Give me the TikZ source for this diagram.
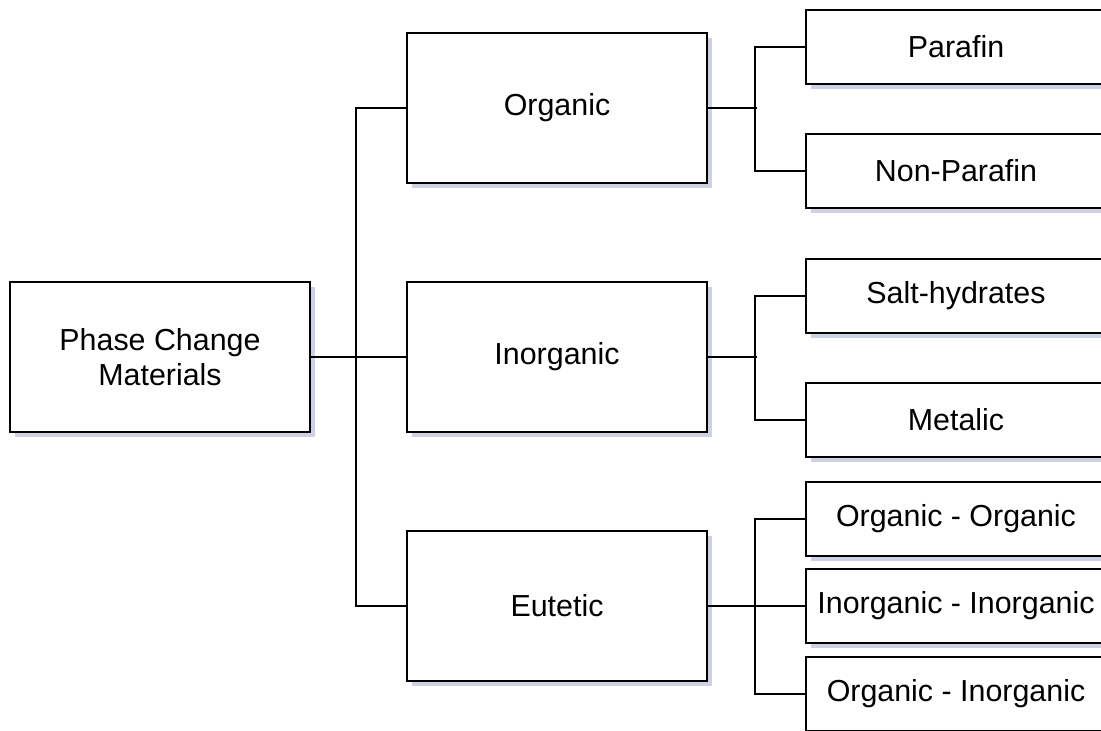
\documentclass[tikz,border=0pt]{standalone}
\usepackage{fontspec}
\setmainfont{Liberation Sans}
\usepackage{tikz}
\usetikzlibrary{shadows}
\definecolor{shadowcol}{RGB}{185,190,215}

\begin{document}
\begin{tikzpicture}[x=0.5pt,y=-0.5pt,line width=1.1pt]
\tikzstyle{box}=[draw,fill=white,align=center,font=\fontsize{15.2}{17.5}\selectfont,
    drop shadow={shadow xshift=2.5pt,shadow yshift=-2.5pt,fill=shadowcol,opacity=0.7}]
\tikzstyle{bigbox}=[box,minimum width=150pt,minimum height=75pt]
\tikzstyle{leaf}=[box,minimum width=150pt,minimum height=37pt]
\useasboundingbox (0,0) rectangle (1101,731);
\clip (0,0) rectangle (1101,731);
% main classes
\node [bigbox] (pcm) at (160,357) {Phase Change\\Materials};
\node [bigbox] (org) at (557,108) {Organic};
\node [bigbox] (inorg) at (557,357) {Inorganic};
\node [bigbox] (eut) at (557,606) {Eutetic};
% sub classes
\node [leaf] (par) at (956,47) {Parafin};
\node [leaf] (npar) at (956,171) {Non-Parafin};
\node [leaf] (salt) at (956,296) {Salt-hydrates};
\node [leaf] (met) at (956,420) {Metalic};
\node [leaf] (oo) at (956,519) {Organic - Organic};
\node [leaf] (ii) at (956,606) {Inorganic - Inorganic};
\node [leaf] (oi) at (956,694) {Organic - Inorganic};
% connectors
\draw (pcm.east) -- (inorg.west);
\draw (org.west) -- ++(-50,0) |- (eut.west);
\draw (org.east) -- ++(49,0);
\draw (par.west) -- ++(-50,0) |- (npar.west);
\draw (inorg.east) -- ++(49,0);
\draw (salt.west) -- ++(-50,0) |- (met.west);
\draw (eut.east) -- (ii.west);
\draw (oo.west) -- ++(-50,0) |- (oi.west);
\end{tikzpicture}
\end{document}
